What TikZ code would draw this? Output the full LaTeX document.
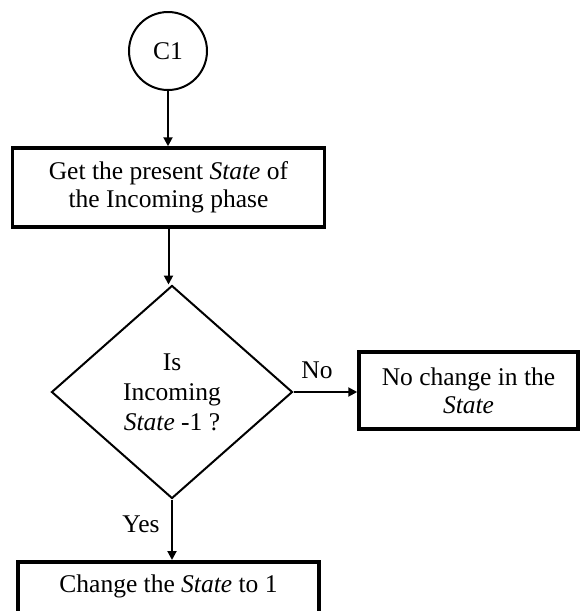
\documentclass[tikz,border=0pt]{standalone}
\usepackage{fontspec}
\setmainfont{Liberation Serif}
\usetikzlibrary{arrows.meta,shapes.geometric}
\tikzset{
  txt/.style={font=\fontsize{25.5}{28}\selectfont, align=center},
  procbox/.style={txt, draw, line width=3.5pt, inner sep=0pt},
  conn/.style={line width=2pt, -{Triangle[length=9pt,width=9pt]}},
  lbl/.style={txt, inner sep=0pt}
}
\begin{document}
\begin{tikzpicture}[x=1pt,y=-1pt]
\useasboundingbox (0,0) rectangle (580,611);
\clip (0,0) rectangle (580,611);
\node[txt, draw, circle, line width=2pt, minimum size=78pt, inner sep=0pt] (c1) at (168,51) {C1};
\node[procbox, minimum width=312pt, minimum height=79pt] (b1) at (168.5,187.5)
  {Get the present \textit{State} of\\the Incoming phase};
\node[draw, diamond, line width=2pt, minimum width=241pt, minimum height=213pt, inner sep=0pt,
  font=\fontsize{25.5}{30}\selectfont, align=center] (d) at (172,392)
  {Is\\Incoming\\\textit{State} -1 ?};
\node[procbox, minimum width=219pt, minimum height=77pt] (b2) at (468.5,390.5)
  {No change in the\\\textit{State}};
\node[procbox, minimum width=301pt, anchor=north, inner ysep=13pt, text height=18pt, text depth=45pt] (b3) at (168.5,560)
  {Change the \textit{State} to 1};
\node[lbl] (no) at (317,370) {No};
\node[lbl] (yes) at (141,524) {Yes};
\draw[conn] (c1.south) -- (c1.south |- b1.north);
\draw[conn] (b1.south) -- (b1.south |- d.north);
\draw[conn] (d.east) -- (d.east -| b2.west);
\draw[conn] (d.south) -- (d.south |- b3.north);
\end{tikzpicture}
\end{document}
